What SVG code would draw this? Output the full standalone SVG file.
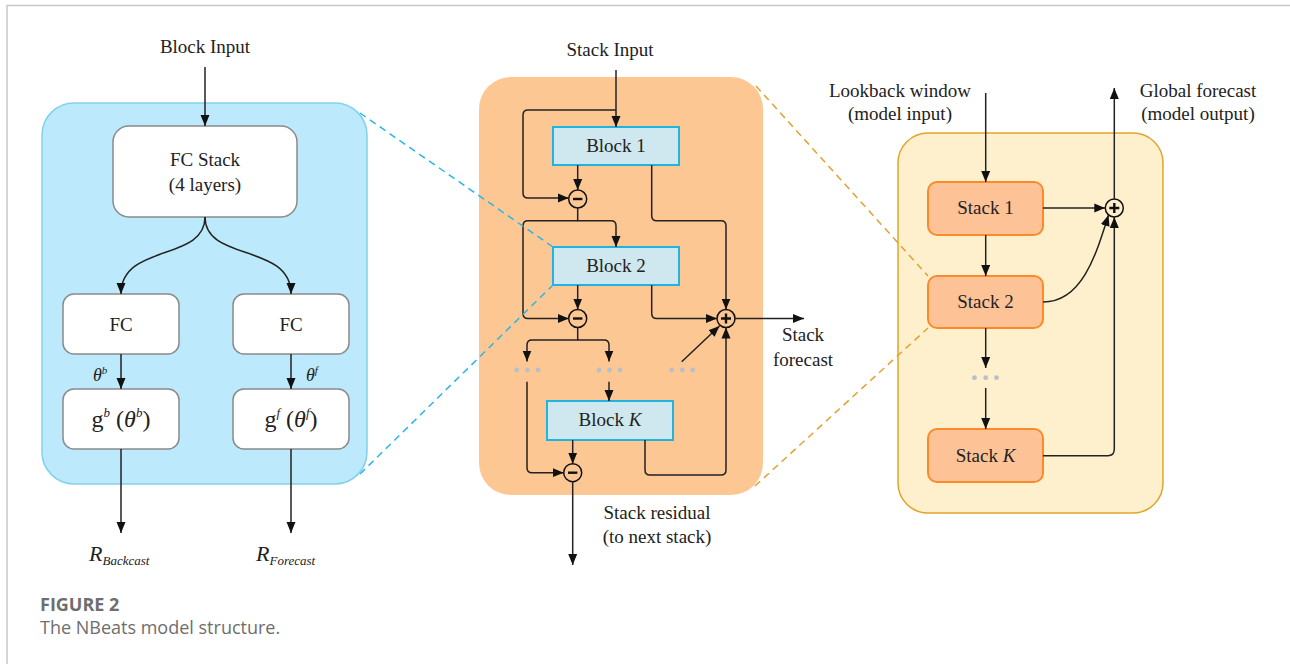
<svg xmlns="http://www.w3.org/2000/svg" width="1290" height="664" viewBox="0 0 1290 664">
<style>
.t{font-family:"Liberation Serif","Times New Roman",serif;font-size:19px;fill:#222;text-anchor:middle}
.c{fill:none;stroke:#222;stroke-width:1.5}
.op{fill:none;stroke:#111;stroke-width:1.5}
.dot{fill:#b9bfc8}
.wb{fill:#fff;stroke:#8a8a8a;stroke-width:1.5}
.bb{fill:#cfe8f0;stroke:#1fb5e0;stroke-width:2}
.sb{fill:#fdc397;stroke:#fd8a2a;stroke-width:2}
.dash{fill:none;stroke-width:1.5;stroke-dasharray:7 5}
.cap{font-family:"Open Sans","Noto Sans",sans-serif;fill:#6e6e6e}
</style>
<defs>
<marker id="ah" viewBox="0 0 11 10" refX="11" refY="5" markerWidth="11" markerHeight="10" markerUnits="userSpaceOnUse" orient="auto">
<path d="M0,0.5 L11,5 L0,9.5 z" fill="#111"/>
</marker>
</defs>
<rect width="1290" height="664" fill="#fff"/>
<path d="M7,664 V5.5 H1290" fill="none" stroke="#c8c8c8" stroke-width="1.5"/>

<!-- panels -->
<g id="panel-block">
<rect x="42" y="103" width="325" height="381" rx="32" fill="#bce9fb" stroke="#80d2ea" stroke-width="1.5"/>
</g>
<g id="panel-stack">
<rect x="479" y="77" width="284" height="418" rx="32" fill="#fdc794"/>
</g>
<g id="panel-model">
<rect x="898" y="133" width="265" height="380" rx="30" fill="#fff0cd" stroke="#e0a52a" stroke-width="1.5"/>
</g>

<!-- left panel nodes -->
<g id="fc-stack">
<rect class="wb" x="113" y="126" width="184" height="91" rx="16"/>
<text class="t" x="205" y="166">FC Stack</text>
<text class="t" x="205" y="191">(4 layers)</text>
</g>
<g id="fc-b">
<rect class="wb" x="63" y="294" width="116" height="60" rx="11"/>
<text class="t" x="121" y="331">FC</text>
</g>
<g id="fc-f">
<rect class="wb" x="233" y="294" width="116" height="60" rx="11"/>
<text class="t" x="291" y="331">FC</text>
</g>
<g id="g-b">
<rect class="wb" x="63" y="389" width="116" height="60" rx="11"/>
<text class="t" x="121" y="427" style="font-size:24px">g<tspan font-size="13" font-style="italic" dy="-10">b</tspan><tspan dy="10"> (</tspan><tspan font-style="italic">θ</tspan><tspan font-size="13" font-style="italic" dy="-10">b</tspan><tspan dy="10">)</tspan></text>
</g>
<g id="g-f">
<rect class="wb" x="233" y="389" width="116" height="60" rx="11"/>
<text class="t" x="291" y="427" style="font-size:24px">g<tspan font-size="13" font-style="italic" dy="-10">f</tspan><tspan dy="10"> (</tspan><tspan font-style="italic">θ</tspan><tspan font-size="13" font-style="italic" dy="-10">f</tspan><tspan dy="10">)</tspan></text>
</g>

<!-- center nodes -->
<g id="block-1">
<rect class="bb" x="553" y="127" width="126" height="38"/>
<text class="t" x="616" y="152">Block 1</text>
</g>
<g id="block-2">
<rect class="bb" x="553" y="247" width="126" height="38"/>
<text class="t" x="616" y="272">Block 2</text>
</g>
<g id="block-k">
<rect class="bb" x="547" y="401" width="126" height="39"/>
<text class="t" x="610" y="426">Block <tspan font-style="italic">K</tspan></text>
</g>
<g id="minus-1">
<circle class="op" cx="577.7" cy="199" r="9"/>
<path d="M573,199 H582.4" stroke="#111" stroke-width="2.4"/>
</g>
<g id="minus-2">
<circle class="op" cx="577.7" cy="318.5" r="9"/>
<path d="M573,318.5 H582.4" stroke="#111" stroke-width="2.4"/>
</g>
<g id="minus-3">
<circle class="op" cx="572.7" cy="472.7" r="9"/>
<path d="M568,472.7 H577.4" stroke="#111" stroke-width="2.4"/>
</g>
<g id="plus-1">
<circle class="op" cx="726" cy="318.5" r="9"/>
<path d="M721,318.5 H731 M726,313.5 V323.5" stroke="#111" stroke-width="2.4"/>
</g>

<!-- right nodes -->
<g id="stack-1">
<rect class="sb" x="928" y="182" width="115" height="53" rx="9"/>
<text class="t" x="985.5" y="214">Stack 1</text>
</g>
<g id="stack-2">
<rect class="sb" x="928" y="276" width="115" height="52" rx="9"/>
<text class="t" x="985.5" y="308">Stack 2</text>
</g>
<g id="stack-k">
<rect class="sb" x="928" y="429" width="115" height="53" rx="9"/>
<text class="t" x="985.5" y="462">Stack <tspan font-style="italic">K</tspan></text>
</g>
<g id="plus-2">
<circle class="op" cx="1114.3" cy="208" r="9"/>
<path d="M1109.3,208 H1119.3 M1114.3,203 V213" stroke="#111" stroke-width="2.4"/>
</g>

<!-- ellipsis dots -->
<g id="dots">
<circle class="dot" cx="516.7" cy="370" r="2.4"/><circle class="dot" cx="527.3" cy="370" r="2.4"/><circle class="dot" cx="538" cy="370" r="2.4"/>
<circle class="dot" cx="599" cy="370" r="2.4"/><circle class="dot" cx="609.5" cy="370" r="2.4"/><circle class="dot" cx="620" cy="370" r="2.4"/>
<circle class="dot" cx="671.7" cy="370" r="2.4"/><circle class="dot" cx="682.3" cy="370" r="2.4"/><circle class="dot" cx="692.7" cy="370" r="2.4"/>
<circle class="dot" cx="974.5" cy="377.7" r="2.4"/><circle class="dot" cx="985.7" cy="377.7" r="2.4"/><circle class="dot" cx="996.5" cy="377.7" r="2.4"/>
</g>

<!-- connectors -->
<g id="connectors" class="c" marker-end="url(#ah)">
<path d="M205,67 V126"/>
<path d="M205,217 C205,262 121,243 121,294"/>
<path d="M205,217 C205,262 291,243 291,294"/>
<path d="M121,354 V389"/>
<path d="M291,354 V389"/>
<path d="M121,449 V533"/>
<path d="M291,449 V533"/>

<path d="M616,70 V127"/>
<path d="M616,110 H528 Q523,110 523,115 V193 Q523,198 528,198 H568.7"/>
<path d="M577.7,165 V190"/>
<path d="M577.7,208 V220.7 H611 Q616,220.7 616,225.7 V247"/>
<path d="M577.7,220.7 H528 Q523,220.7 523,225.7 V313.5 Q523,318.5 528,318.5 H568.7"/>
<path d="M651.7,165 V215.7 Q651.7,220.7 656.7,220.7 H721 Q726,220.7 726,225.7 V309.5"/>
<path d="M577.7,285 V309.5"/>
<path d="M651.7,285 V313.5 Q651.7,318.5 656.7,318.5 H717"/>
<path d="M577.7,327.5 V340 H532 Q527,340 527,345 V361.5"/>
<path d="M577.7,340 H604 Q609,340 609,345 V361.5"/>
<path d="M527,381.7 V467.7 Q527,472.7 532,472.7 H563.7"/>
<path d="M609,381.7 V401"/>
<path d="M572.7,440 V463.7"/>
<path d="M645,440 V470 Q645,475 650,475 H721 Q726,475 726,470 V327.5"/>
<path d="M681.7,361.7 L719.5,326"/>
<path d="M735,318.5 H804"/>
<path d="M572.7,481.7 V565"/>

<path d="M985.7,93 V182"/>
<path d="M1043,208 H1105.3"/>
<path d="M1114.3,199 V88"/>
<path d="M985.7,235 V276"/>
<path d="M1043,302 C1082,302 1096,255 1108.5,215"/>
<path d="M985.7,328 V368"/>
<path d="M985.7,388 V429"/>
<path d="M1043,455.7 H1107.8 Q1114.3,455.7 1114.3,449 V217"/>
</g>

<!-- zoom dashed lines -->
<g id="zoom-lines">
<path class="dash" d="M360,113 L553,247" stroke="#29b6e6"/>
<path class="dash" d="M360,474 L553,285" stroke="#29b6e6"/>
<path class="dash" d="M756,86 L928,276" stroke="#e2a22e"/>
<path class="dash" d="M755,486 L928,328" stroke="#e2a22e"/>
</g>

<!-- labels -->
<g id="labels">
<text class="t" x="205" y="53">Block Input</text>
<text class="t" x="93" y="381" style="text-anchor:start;font-style:italic;font-size:18px">θ<tspan font-size="11" dy="-7">b</tspan></text>
<text class="t" x="306" y="381" style="text-anchor:start;font-style:italic;font-size:18px">θ<tspan font-size="11" dy="-7">f</tspan></text>
<text class="t" x="89" y="561" style="text-anchor:start;font-style:italic;font-size:22px">R<tspan font-size="13" dy="4">Backcast</tspan></text>
<text class="t" x="256" y="561" style="text-anchor:start;font-style:italic;font-size:22px">R<tspan font-size="13" dy="4">Forecast</tspan></text>
<text class="t" x="610" y="56">Stack Input</text>
<text class="t" x="803" y="341">Stack</text>
<text class="t" x="803" y="366">forecast</text>
<text class="t" x="657" y="519">Stack residual</text>
<text class="t" x="657" y="543">(to next stack)</text>
<text class="t" x="900" y="97">Lookback window</text>
<text class="t" x="900" y="120">(model input)</text>
<text class="t" x="1198" y="97">Global forecast</text>
<text class="t" x="1198" y="120">(model output)</text>
</g>

<g id="caption">
<text class="cap" x="40" y="611" font-size="18" font-weight="bold">FIGURE 2</text>
<text class="cap" x="40" y="634" font-size="18">The NBeats model structure.</text>
</g>
</svg>
